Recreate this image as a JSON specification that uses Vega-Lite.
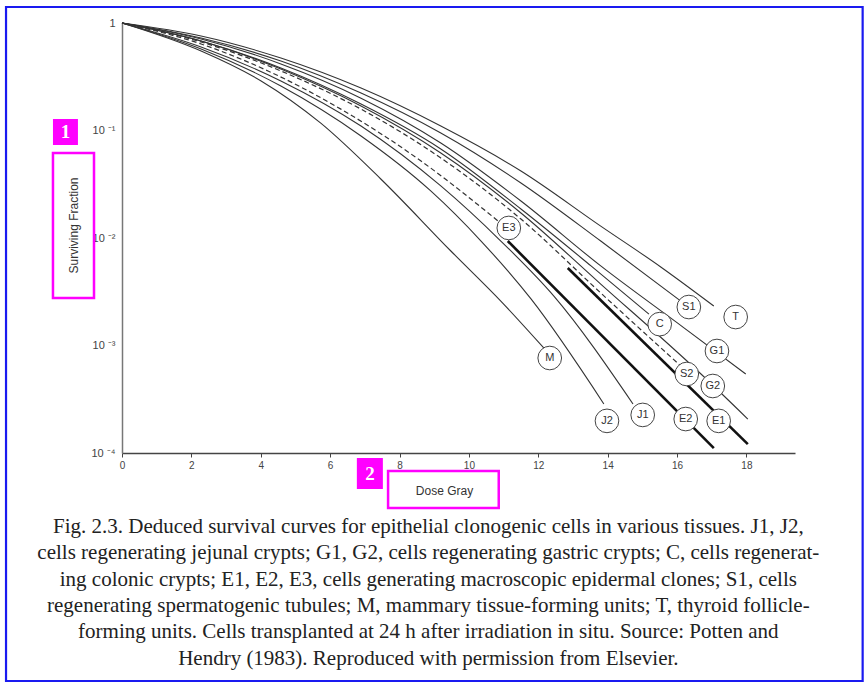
{
  "$schema": "https://vega.github.io/schema/vega-lite/v6.json",
  "width": 673,
  "height": 430,
  "padding": {"left": 4, "top": 5, "right": 2, "bottom": 2},
  "background": "white",
  "config": {"view": {"stroke": null}, "font": "Liberation Sans"},
  "title": {
    "text": [
      "Fig. 2.3.  Deduced survival curves for epithelial clonogenic cells in various tissues. J1, J2,",
      "cells regenerating jejunal crypts; G1, G2, cells regenerating gastric crypts; C, cells regenerat-",
      "ing colonic crypts; E1, E2, E3, cells generating macroscopic epidermal clones; S1, cells",
      "regenerating spermatogenic tubules; M, mammary tissue-forming units; T, thyroid follicle-",
      "forming units. Cells transplanted at 24 h after irradiation in situ. Source: Potten and",
      "Hendry (1983). Reproduced with permission from Elsevier."
    ],
    "orient": "bottom",
    "anchor": "middle",
    "frame": "bounds",
    "offset": -166,
    "dx": -6,
    "font": "Liberation Serif",
    "fontSize": 21,
    "fontWeight": "normal",
    "color": "#222222",
    "lineHeight": 26.3
  },
  "datasets": {
    "frame": [{"dose": -3.343, "dose2": 21.35, "sf": 1.409, "sf2": 7.57e-7}],
    "curves": [
      {"curve": "T", "dose": 0, "sf": 1}, {"curve": "T", "dose": 2.28, "sf": 0.757}, {"curve": "T", "dose": 4.58, "sf": 0.472}, {"curve": "T", "dose": 6.89, "sf": 0.248}, {"curve": "T", "dose": 9.19, "sf": 0.11}, {"curve": "T", "dose": 11.5, "sf": 0.042}, {"curve": "T", "dose": 13.8, "sf": 0.0129}, {"curve": "T", "dose": 15.53, "sf": 0.00538}, {"curve": "T", "dose": 17.06, "sf": 0.00233},
      {"curve": "S1", "dose": 0, "sf": 1}, {"curve": "S1", "dose": 2.28, "sf": 0.725}, {"curve": "S1", "dose": 4.58, "sf": 0.443}, {"curve": "S1", "dose": 6.89, "sf": 0.223}, {"curve": "S1", "dose": 9.19, "sf": 0.0948}, {"curve": "S1", "dose": 11.5, "sf": 0.0325}, {"curve": "S1", "dose": 13.8, "sf": 0.00937}, {"curve": "S1", "dose": 16.11, "sf": 0.00259},
      {"curve": "G1", "dose": 0, "sf": 1}, {"curve": "G1", "dose": 2.28, "sf": 0.71}, {"curve": "G1", "dose": 4.58, "sf": 0.416}, {"curve": "G1", "dose": 6.89, "sf": 0.2}, {"curve": "G1", "dose": 9.19, "sf": 0.0766}, {"curve": "G1", "dose": 11.5, "sf": 0.0221}, {"curve": "G1", "dose": 13.8, "sf": 0.0055}, {"curve": "G1", "dose": 16.2, "sf": 0.00146}, {"curve": "G1", "dose": 17.98, "sf": 0.000543},
      {"curve": "C", "dose": 0, "sf": 1}, {"curve": "C", "dose": 2.28, "sf": 0.68}, {"curve": "C", "dose": 4.58, "sf": 0.381}, {"curve": "C", "dose": 6.89, "sf": 0.176}, {"curve": "C", "dose": 9.19, "sf": 0.0673}, {"curve": "C", "dose": 11.5, "sf": 0.0186}, {"curve": "C", "dose": 13.52, "sf": 0.0055}, {"curve": "C", "dose": 15.19, "sf": 0.00196},
      {"curve": "G2", "dose": 0, "sf": 1}, {"curve": "G2", "dose": 2.28, "sf": 0.68}, {"curve": "G2", "dose": 4.58, "sf": 0.373}, {"curve": "G2", "dose": 6.89, "sf": 0.169}, {"curve": "G2", "dose": 9.19, "sf": 0.0618}, {"curve": "G2", "dose": 11.5, "sf": 0.0171}, {"curve": "G2", "dose": 13.8, "sf": 0.00373}, {"curve": "G2", "dose": 16.69, "sf": 0.000543}, {"curve": "G2", "dose": 18.04, "sf": 0.000207},
      {"curve": "S2", "dose": 0, "sf": 1}, {"curve": "S2", "dose": 2.28, "sf": 0.666}, {"curve": "S2", "dose": 4.58, "sf": 0.358}, {"curve": "S2", "dose": 6.89, "sf": 0.158}, {"curve": "S2", "dose": 9.19, "sf": 0.0555}, {"curve": "S2", "dose": 11.5, "sf": 0.015}, {"curve": "S2", "dose": 13.8, "sf": 0.00308}, {"curve": "S2", "dose": 16.11, "sf": 0.000644},
      {"curve": "E3", "dose": 0, "sf": 1}, {"curve": "E3", "dose": 2.28, "sf": 0.638}, {"curve": "E3", "dose": 4.21, "sf": 0.358}, {"curve": "E3", "dose": 6.31, "sf": 0.158}, {"curve": "E3", "dose": 8.62, "sf": 0.052}, {"curve": "E3", "dose": 10.84, "sf": 0.0144},
      {"curve": "E2", "dose": 11.12, "sf": 0.00937}, {"curve": "E2", "dose": 17.06, "sf": 0.000111},
      {"curve": "E1", "dose": 12.85, "sf": 0.00526}, {"curve": "E1", "dose": 18.04, "sf": 0.000121},
      {"curve": "M", "dose": 0, "sf": 1}, {"curve": "M", "dose": 2.28, "sf": 0.549}, {"curve": "M", "dose": 4.01, "sf": 0.289}, {"curve": "M", "dose": 5.73, "sf": 0.117}, {"curve": "M", "dose": 7.46, "sf": 0.0354}, {"curve": "M", "dose": 9.48, "sf": 0.00757}, {"curve": "M", "dose": 10.92, "sf": 0.00259}, {"curve": "M", "dose": 12.16, "sf": 0.000948},
      {"curve": "J2", "dose": 0, "sf": 1}, {"curve": "J2", "dose": 2.28, "sf": 0.573}, {"curve": "J2", "dose": 4.58, "sf": 0.259}, {"curve": "J2", "dose": 6.89, "sf": 0.0889}, {"curve": "J2", "dose": 8.9, "sf": 0.0274}, {"curve": "J2", "dose": 10.35, "sf": 0.00937}, {"curve": "J2", "dose": 11.79, "sf": 0.00271}, {"curve": "J2", "dose": 13.89, "sf": 0.000286},
      {"curve": "J1", "dose": 0, "sf": 1}, {"curve": "J1", "dose": 2.28, "sf": 0.598}, {"curve": "J1", "dose": 4.58, "sf": 0.289}, {"curve": "J1", "dose": 6.89, "sf": 0.11}, {"curve": "J1", "dose": 9.19, "sf": 0.0305}, {"curve": "J1", "dose": 10.92, "sf": 0.00937}, {"curve": "J1", "dose": 12.45, "sf": 0.00288}, {"curve": "J1", "dose": 14.73, "sf": 0.000286}
    ],
    "labels": [
      {"label": "T", "dose": 17.69, "sf": 0.00184},
      {"label": "S1", "dose": 16.34, "sf": 0.00228},
      {"label": "C", "dose": 15.5, "sf": 0.00158},
      {"label": "G1", "dose": 17.15, "sf": 0.000889},
      {"label": "S2", "dose": 16.28, "sf": 0.000543},
      {"label": "G2", "dose": 17.03, "sf": 0.00042},
      {"label": "E1", "dose": 17.2, "sf": 0.000199},
      {"label": "E2", "dose": 16.25, "sf": 0.000207},
      {"label": "J1", "dose": 15.01, "sf": 0.000226},
      {"label": "J2", "dose": 13.98, "sf": 0.000199},
      {"label": "M", "dose": 12.33, "sf": 0.000765},
      {"label": "E3", "dose": 11.15, "sf": 0.0124}
    ],
    "outlines": [
      {"box": "y title", "dose": -1.99, "dose2": -0.807, "sf": 0.0618, "sf2": 0.00277},
      {"box": "x title", "dose": 7.67, "dose2": 10.86, "sf": 6.8e-5, "sf2": 3.08e-5}
    ],
    "tags": [
      {"tag": "1", "dose": -1.99, "dose2": -1.27, "sf": 0.128, "sf2": 0.0733, "dmid": -1.63, "smid": 0.0968},
      {"tag": "2", "dose": 6.77, "dose2": 7.52, "sf": 8.98e-5, "sf2": 4.62e-5, "dmid": 7.15, "smid": 6.44e-5}
    ]
  },
  "layer": [
    {
      "data": {"name": "frame"},
      "mark": {"type": "rect", "fill": "white", "fillOpacity": 0, "stroke": "#1a1af0", "strokeWidth": 2.2, "clip": false},
      "encoding": {
        "x": {"field": "dose", "type": "quantitative", "scale": {"domain": [0, 19.4], "nice": false, "zero": false}},
        "x2": {"field": "dose2"},
        "y": {"field": "sf", "type": "quantitative", "scale": {"type": "log", "domain": [0.0001, 1], "nice": false}},
        "y2": {"field": "sf2"}
      }
    },
    {
      "data": {"name": "curves"},
      "transform": [{"filter": {"field": "curve", "oneOf": ["T", "S1", "G1", "C", "G2", "M", "J1", "J2"]}}],
      "mark": {"type": "line", "color": "#333333", "strokeWidth": 1.1, "interpolate": "monotone"},
      "encoding": {
        "x": {
          "field": "dose", "type": "quantitative",
          "scale": {"domain": [0, 19.4], "nice": false, "zero": false},
          "axis": {
            "title": "Dose Gray", "values": [0, 1, 2, 3, 4, 5, 6, 7, 8, 9, 10, 11, 12, 13, 14, 15, 16, 17, 18],
            "labelExpr": "datum.value % 2 === 0 ? datum.label : ''",
            "grid": false, "labelFlush": false, "domainColor": "#444444", "domainWidth": 1.5,
            "tickColor": "#444444", "tickSize": 4, "labelFontSize": 10, "labelColor": "#444444", "labelPadding": 3,
            "titleFontSize": 12, "titleFontWeight": "normal", "titleColor": "#333333",
            "titleX": 322, "titleY": 37, "titleAlign": "center", "titleBaseline": "middle"
          }
        },
        "y": {
          "field": "sf", "type": "quantitative",
          "scale": {"type": "log", "domain": [0.0001, 1], "nice": false},
          "axis": {
            "title": "Surviving Fraction", "values": [0.0001, 0.001, 0.01, 0.1, 1],
            "labelExpr": "datum.value >= 1 ? '1' : datum.value >= 0.1 ? '10 ⁻¹' : datum.value >= 0.01 ? '10 ⁻²' : datum.value >= 0.001 ? '10 ⁻³' : '10 ⁻⁴'",
            "grid": false, "ticks": false, "domainColor": "#777777", "domainWidth": 1.5,
            "labelFontSize": 11, "labelColor": "#444444", "labelPadding": 7,
            "titleFontSize": 12, "titleFontWeight": "normal", "titleColor": "#333333",
            "titleX": -49, "titleY": 202, "titleAlign": "center", "titleBaseline": "middle", "titleAngle": -90
          }
        },
        "detail": {"field": "curve"}
      }
    },
    {
      "data": {"name": "curves"},
      "transform": [{"filter": {"field": "curve", "oneOf": ["E3", "S2"]}}],
      "mark": {"type": "line", "color": "#333333", "strokeWidth": 1.2, "strokeDash": [5, 3], "interpolate": "monotone"},
      "encoding": {
        "x": {"field": "dose", "type": "quantitative", "scale": {"domain": [0, 19.4], "nice": false, "zero": false}},
        "y": {"field": "sf", "type": "quantitative", "scale": {"type": "log", "domain": [0.0001, 1], "nice": false}},
        "detail": {"field": "curve"}
      }
    },
    {
      "data": {"name": "curves"},
      "transform": [{"filter": {"field": "curve", "oneOf": ["E1", "E2"]}}],
      "mark": {"type": "line", "color": "#111111", "strokeWidth": 2.6},
      "encoding": {
        "x": {"field": "dose", "type": "quantitative", "scale": {"domain": [0, 19.4], "nice": false, "zero": false}},
        "y": {"field": "sf", "type": "quantitative", "scale": {"type": "log", "domain": [0.0001, 1], "nice": false}},
        "detail": {"field": "curve"}
      }
    },
    {
      "data": {"name": "labels"},
      "mark": {"type": "point", "shape": "circle", "size": 560, "filled": true, "fill": "white", "stroke": "#444444", "strokeWidth": 1, "opacity": 1},
      "encoding": {
        "x": {"field": "dose", "type": "quantitative", "scale": {"domain": [0, 19.4], "nice": false, "zero": false}},
        "y": {"field": "sf", "type": "quantitative", "scale": {"type": "log", "domain": [0.0001, 1], "nice": false}}
      }
    },
    {
      "data": {"name": "labels"},
      "mark": {"type": "text", "fontSize": 11, "color": "#333333", "align": "center", "baseline": "middle"},
      "encoding": {
        "x": {"field": "dose", "type": "quantitative", "scale": {"domain": [0, 19.4], "nice": false, "zero": false}},
        "y": {"field": "sf", "type": "quantitative", "scale": {"type": "log", "domain": [0.0001, 1], "nice": false}},
        "text": {"field": "label"}
      }
    },
    {
      "data": {"name": "outlines"},
      "mark": {"type": "rect", "fill": "white", "fillOpacity": 0, "stroke": "#ff00ff", "strokeWidth": 2.5, "clip": false},
      "encoding": {
        "x": {"field": "dose", "type": "quantitative", "scale": {"domain": [0, 19.4], "nice": false, "zero": false}},
        "x2": {"field": "dose2"},
        "y": {"field": "sf", "type": "quantitative", "scale": {"type": "log", "domain": [0.0001, 1], "nice": false}},
        "y2": {"field": "sf2"}
      }
    },
    {
      "data": {"name": "tags"},
      "mark": {"type": "rect", "fill": "#ff00ff", "clip": false},
      "encoding": {
        "x": {"field": "dose", "type": "quantitative", "scale": {"domain": [0, 19.4], "nice": false, "zero": false}},
        "x2": {"field": "dose2"},
        "y": {"field": "sf", "type": "quantitative", "scale": {"type": "log", "domain": [0.0001, 1], "nice": false}},
        "y2": {"field": "sf2"}
      }
    },
    {
      "data": {"name": "tags"},
      "mark": {"type": "text", "font": "Liberation Serif", "fontSize": 19, "fontWeight": "bold", "color": "white", "align": "center", "baseline": "middle", "clip": false},
      "encoding": {
        "x": {"field": "dmid", "type": "quantitative", "scale": {"domain": [0, 19.4], "nice": false, "zero": false}},
        "y": {"field": "smid", "type": "quantitative", "scale": {"type": "log", "domain": [0.0001, 1], "nice": false}},
        "text": {"field": "tag"}
      }
    }
  ]
}
